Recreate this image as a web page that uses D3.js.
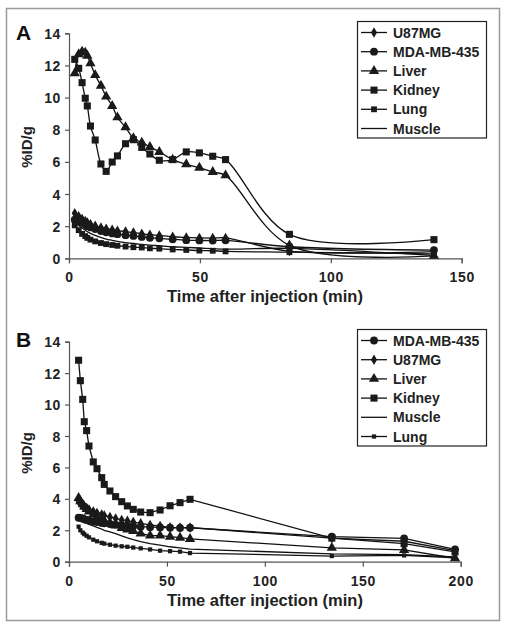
<!DOCTYPE html>
<html><head><meta charset="utf-8">
<script src="https://cdn.jsdelivr.net/npm/d3@7"></script>
<style>
html,body{margin:0;padding:0;background:#fff;}
svg{display:block;font-family:"Liberation Sans",Arial,sans-serif;font-weight:bold;}
</style></head>
<body>
<svg id="c" width="506" height="628"></svg>
<script>
// ---------- Panel A data ----------
const timesA = [2.2, 3.7, 5.0, 6.2, 7.0, 8.2, 10.0, 12.2, 14.2, 16.5, 18.5, 21.6, 24.6, 27.8, 30.9, 34.5, 39.6, 44.8, 49.8, 54.9, 59.8, 84.2, 139.4];
const kidneyA = [12.38, 11.82, 10.93, 9.96, 9.48, 8.23, 7.36, 5.87, 5.41, 5.99, 6.37, 7.13, 7.38, 6.9, 6.49, 6.1, 6.14, 6.62, 6.56, 6.35, 6.14, 1.49, 1.16];
const liverA = [11.51, 12.7, 12.86, 12.8, 12.6, 12.13, 11.4, 10.74, 10.06, 9.48, 8.77, 8.15, 7.47, 7.2, 6.93, 6.62, 6.14, 5.85, 5.64, 5.37, 5.16, 0.8, 0.15];
const u87A = [2.8, 2.62, 2.45, 2.32, 2.22, 2.12, 2.02, 1.92, 1.84, 1.77, 1.72, 1.66, 1.6, 1.53, 1.47, 1.42, 1.34, 1.3, 1.27, 1.26, 1.27, 0.45, 0.42];
const mdaA = [2.4, 2.3, 2.2, 2.1, 2.0, 1.92, 1.82, 1.7, 1.62, 1.55, 1.5, 1.44, 1.39, 1.33, 1.28, 1.24, 1.18, 1.13, 1.11, 1.1, 1.12, 0.72, 0.51];
const lungA = [2.05, 1.75, 1.52, 1.38, 1.27, 1.16, 1.05, 0.95, 0.88, 0.83, 0.78, 0.73, 0.69, 0.67, 0.62, 0.6, 0.55, 0.52, 0.48, 0.47, 0.43, 0.38, 0.28];
const muscleA = [2.25, 2.05, 1.88, 1.75, 1.65, 1.55, 1.42, 1.3, 1.2, 1.12, 1.05, 0.98, 0.92, 0.87, 0.82, 0.78, 0.72, 0.68, 0.64, 0.6, 0.57, 0.62, 0.18];

// ---------- Panel B data ----------
const timesB = [4.9, 5.8, 7.0, 7.8, 9.0, 10.2, 12.4, 14.3, 16.7, 18.0, 20.9, 23.8, 26.9, 29.8, 32.8, 36.6, 41.4, 46.5, 51.6, 56.7, 61.8, 134.2, 171.1, 197.1];
const kidneyB = [12.82, 11.52, 10.33, 8.91, 8.34, 7.36, 6.35, 5.92, 5.35, 4.92, 4.5, 4.14, 3.82, 3.55, 3.33, 3.16, 3.12, 3.29, 3.56, 3.76, 3.97, 1.5, 1.15, 0.62];
const mdaB = [2.8, 2.78, 2.75, 2.7, 2.66, 2.62, 2.56, 2.52, 2.47, 2.44, 2.4, 2.36, 2.32, 2.29, 2.26, 2.23, 2.2, 2.18, 2.16, 2.15, 2.16, 1.59, 1.49, 0.79];
const u87B = [3.85, 3.72, 3.6, 3.5, 3.42, 3.32, 3.2, 3.1, 3.0, 2.94, 2.84, 2.75, 2.66, 2.6, 2.52, 2.44, 2.34, 2.27, 2.19, 2.17, 2.17, 1.5, 1.3, 0.7];
const liverB = [4.05, 3.85, 3.65, 3.5, 3.35, 3.2, 3.0, 2.85, 2.7, 2.6, 2.45, 2.3, 2.15, 2.05, 1.95, 1.8, 1.66, 1.66, 1.59, 1.53, 1.45, 0.88, 0.75, 0.22];
const muscleB = [2.65, 2.6, 2.55, 2.5, 2.45, 2.38, 2.28, 2.18, 2.08, 2.0, 1.9, 1.78, 1.65, 1.52, 1.4, 1.28, 1.15, 1.05, 0.95, 0.88, 0.8, 0.5, 0.45, 0.3];
const lungB = [2.23, 2.0, 1.85, 1.75, 1.65, 1.55, 1.4, 1.3, 1.2, 1.15, 1.08, 1.02, 0.98, 0.95, 0.9, 0.85, 0.78, 0.7, 0.67, 0.64, 0.55, 0.36, 0.4, 0.25];

const yTicks = [0, 2, 4, 6, 8, 10, 12, 14];
const xTicksA = [0, 50, 100, 150];
const xTicksB = [0, 50, 100, 150, 200];
const xTitle = "Time after injection (min)";
const yTitle = "%ID/g";

const svg = d3.select("#c");
svg.append("rect").attr("x", 6.5).attr("y", 8.5).attr("width", 493).attr("height", 612)
  .attr("fill", "none").attr("stroke", "#9a9a9a").attr("stroke-width", 1.5);

const sym = {
  diamond: d3.symbolDiamond, circle: d3.symbolCircle, triangle: d3.symbolTriangle, square: d3.symbolSquare
};

function panel(opt) {
  const x = d3.scaleLinear().domain(opt.xDomain).range([69, opt.xRight]);
  const y = d3.scaleLinear().domain([0, 14]).range([opt.y0, opt.y14]);
  const g = svg.append("g");

  const ax = g.append("g").attr("transform", `translate(0,${opt.y0})`)
    .call(d3.axisBottom(x).tickValues(opt.xTicks).tickSize(5).tickPadding(9).tickFormat(d3.format("d")));
  const ay = g.append("g").attr("transform", `translate(69,0)`)
    .call(d3.axisLeft(y).tickValues(yTicks).tickSize(4).tickPadding(4).tickFormat(d3.format("d")));
  [ax, ay].forEach(a => {
    a.select(".domain").attr("stroke", "#555").attr("stroke-width", 1.2);
    a.selectAll(".tick line").attr("stroke", "#555").attr("stroke-width", 1.2);
    a.selectAll("text").attr("font-size", 14).attr("font-weight", "bold")
      .attr("font-family", "Liberation Sans, Arial, sans-serif").attr("fill", "#222")
      .attr("letter-spacing", 0.6);
  });
  ay.selectAll("text").attr("dy", "0.36em");

  g.append("text").attr("x", 265).attr("y", opt.y0 + 44).attr("text-anchor", "middle")
    .attr("font-size", 16.5).attr("fill", "#222").text(xTitle);
  g.append("text").attr("transform", `translate(32,${opt.yMid}) rotate(-90)`).attr("text-anchor", "middle")
    .attr("font-size", 15).attr("fill", "#222").text(yTitle);
  g.append("text").attr("x", 16).attr("y", opt.labelY).attr("font-size", 21).attr("fill", "#111").text(opt.label);

  const line = d3.line().x(d => x(d[0])).y(d => y(d[1])).curve(opt.curve);
  opt.series.forEach(s => {
    const pts = opt.times.map((t, i) => [t, s.values[i]]);
    g.append("path").attr("d", line(pts)).attr("fill", "none").attr("stroke", "#111").attr("stroke-width", 1.3);
  });
  opt.series.forEach(s => {
    if (!s.marker) return;
    const pts = opt.times.map((t, i) => [t, s.values[i]]);
    g.append("g").selectAll("path").data(pts).join("path")
      .attr("transform", d => `translate(${x(d[0])},${y(d[1])})`)
      .attr("d", d3.symbol().type(sym[s.marker]).size(s.size))
      .attr("fill", "#1a1a1a");
  });

  const lg = g.append("g");
  lg.append("rect").attr("x", 357.5).attr("y", opt.legTop).attr("width", 129).attr("height", 116.5)
    .attr("fill", "#fff").attr("stroke", "#222").attr("stroke-width", 1.2);
  opt.legendOrder.forEach((name, i) => {
    const s = opt.series.find(d => d.name === name);
    const cy = opt.legTop + 11 + i * 19.2;
    lg.append("line").attr("x1", 361).attr("x2", 387).attr("y1", cy).attr("y2", cy)
      .attr("stroke", "#111").attr("stroke-width", 1.3);
    if (s.marker) {
      lg.append("path").attr("transform", `translate(374,${cy})`)
        .attr("d", d3.symbol().type(sym[s.marker]).size(s.legSize || s.size)).attr("fill", "#1a1a1a");
    }
    lg.append("text").attr("x", 393).attr("y", cy).attr("dy", "0.36em").attr("font-size", 14)
      .attr("fill", "#222").text(name);
  });
}

panel({
  label: "A", labelY: 40, xDomain: [0, 150], xRight: 461.7, y0: 258.3, y14: 33.3, yMid: 147,
  xTicks: xTicksA, times: timesA, legTop: 21.5, curve: d3.curveCatmullRom.alpha(0.5),
  series: [
    { name: "Muscle", values: muscleA, marker: null },
    { name: "Lung", values: lungA, marker: "square", size: 34 },
    { name: "MDA-MB-435", values: mdaA, marker: "circle", size: 48 },
    { name: "U87MG", values: u87A, marker: "diamond", size: 32 },
    { name: "Liver", values: liverA, marker: "triangle", size: 46 },
    { name: "Kidney", values: kidneyA, marker: "square", size: 50 }
  ],
  legendOrder: ["U87MG", "MDA-MB-435", "Liver", "Kidney", "Lung", "Muscle"]
});

panel({
  label: "B", labelY: 347, xDomain: [0, 200], xRight: 460.7, y0: 561.7, y14: 341.7, yMid: 453,
  xTicks: xTicksB, times: timesB, legTop: 329.5, curve: d3.curveLinear,
  series: [
    { name: "Muscle", values: muscleB, marker: null },
    { name: "Lung", values: lungB, marker: "square", size: 18, legSize: 18 },
    { name: "MDA-MB-435", values: mdaB, marker: "circle", size: 48 },
    { name: "U87MG", values: u87B, marker: "diamond", size: 32 },
    { name: "Liver", values: liverB, marker: "triangle", size: 46 },
    { name: "Kidney", values: kidneyB, marker: "square", size: 50 }
  ],
  legendOrder: ["MDA-MB-435", "U87MG", "Liver", "Kidney", "Muscle", "Lung"]
});
</script>
</body></html>
